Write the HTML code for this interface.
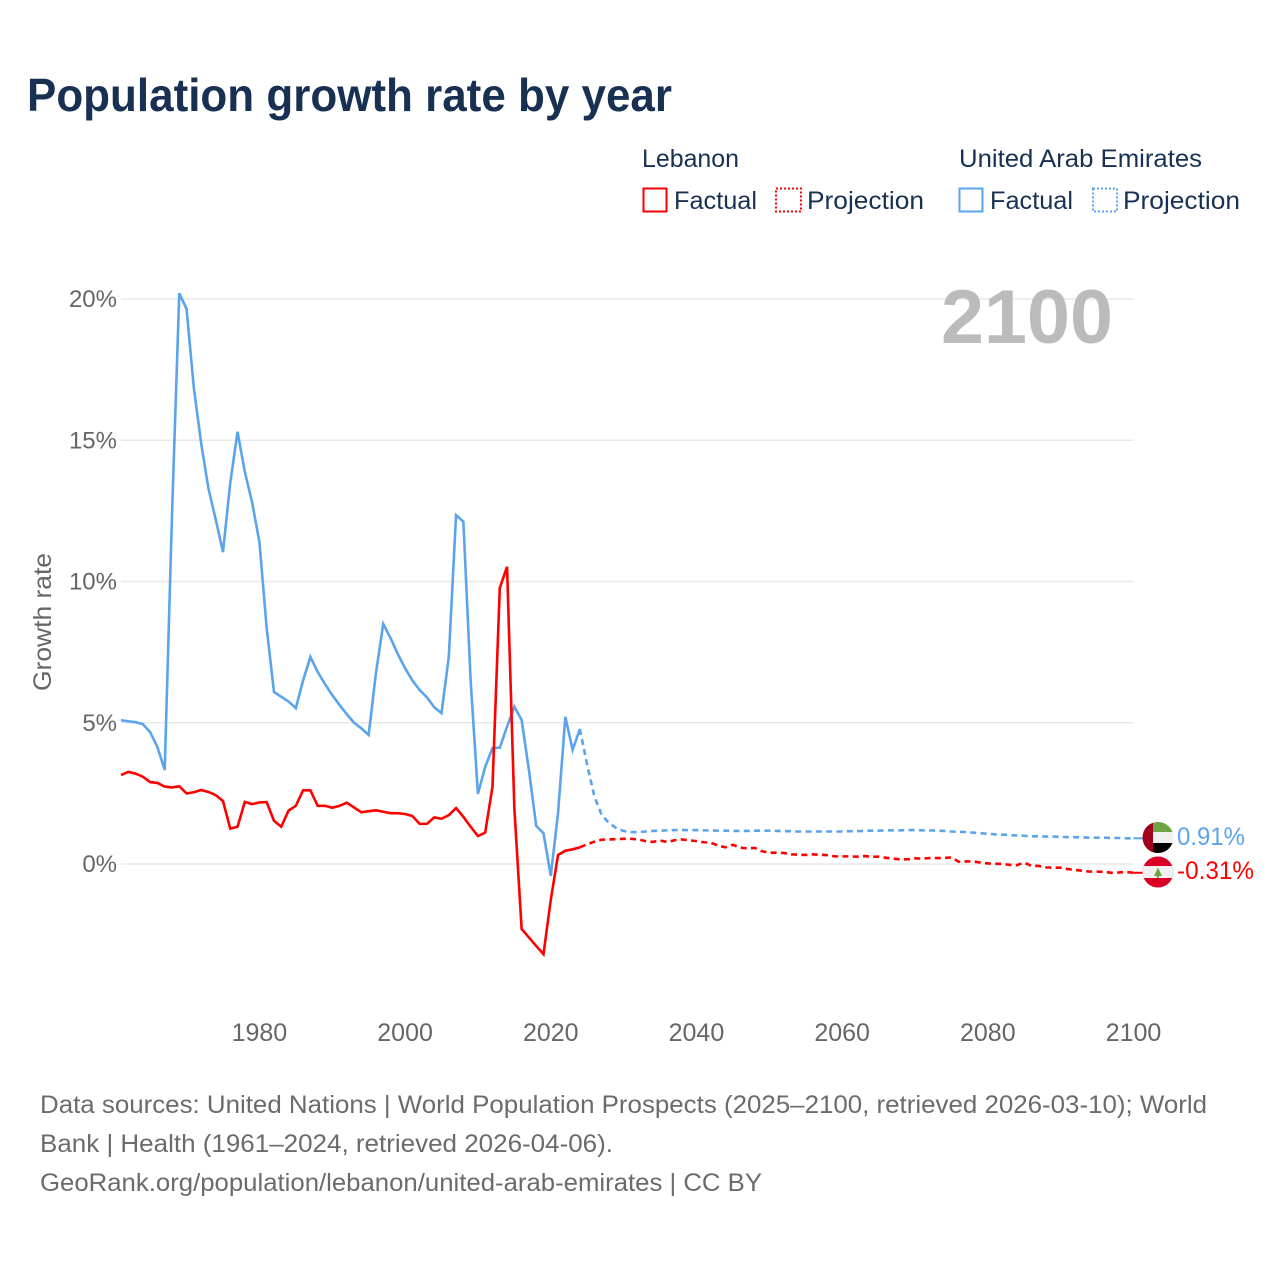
<!DOCTYPE html>
<html>
<head>
<meta charset="utf-8">
<title>Population growth rate by year</title>
<style>
html,body{margin:0;padding:0;background:#fff;width:1280px;height:1280px;overflow:hidden}
svg{display:block}
text{font-family:"Liberation Sans",sans-serif}
</style>
</head>
<body>
<svg id="chart" xmlns="http://www.w3.org/2000/svg" width="1280" height="1280" viewBox="0 0 1280 1280">
  <defs>
    <clipPath id="uae-clip"><circle cx="1158" cy="837.5" r="15.5"/></clipPath>
    <clipPath id="lb-clip"><circle cx="1158" cy="872" r="15.5"/></clipPath>
  </defs>
  <text x="27" y="111" font-size="46" font-weight="700" fill="#183153" textLength="645" lengthAdjust="spacingAndGlyphs">Population growth rate by year</text>

  <g font-size="25" fill="#183153">
    <text x="642" y="167" textLength="97" lengthAdjust="spacingAndGlyphs">Lebanon</text>
    <rect x="643.5" y="188.5" width="23" height="23" fill="none" stroke="#ff0000" stroke-width="2"/>
    <text x="674" y="209" textLength="83" lengthAdjust="spacingAndGlyphs">Factual</text>
    <rect x="776" y="188.5" width="25" height="23" fill="none" stroke="#ff0000" stroke-width="2" stroke-dasharray="2 2"/>
    <text x="807" y="209" textLength="117" lengthAdjust="spacingAndGlyphs">Projection</text>
    <text x="959" y="167" textLength="243" lengthAdjust="spacingAndGlyphs">United Arab Emirates</text>
    <rect x="959.5" y="188.5" width="23" height="23" fill="none" stroke="#5ba4ec" stroke-width="2"/>
    <text x="990" y="209" textLength="83" lengthAdjust="spacingAndGlyphs">Factual</text>
    <rect x="1093" y="188.5" width="24" height="23" fill="none" stroke="#5ba4ec" stroke-width="2" stroke-dasharray="2 2"/>
    <text x="1123" y="209" textLength="117" lengthAdjust="spacingAndGlyphs">Projection</text>
  </g>

  <g id="grid"></g>
  <g id="yticks"></g>
  <g id="xticks"></g>

  <text transform="translate(51 622) rotate(-90)" text-anchor="middle" font-size="25" fill="#666666" textLength="138" lengthAdjust="spacingAndGlyphs">Growth rate</text>

  <text x="941" y="343" font-size="76" font-weight="700" fill="#bbbbbb" textLength="172" lengthAdjust="spacingAndGlyphs">2100</text>

  <g id="series"></g>

  <g clip-path="url(#uae-clip)">
    <rect x="1142" y="822" width="32" height="10" fill="#6da544"/>
    <rect x="1142" y="832" width="32" height="11" fill="#f0f0f0"/>
    <rect x="1142" y="843" width="32" height="11" fill="#000000"/>
    <rect x="1142" y="822" width="11" height="32" fill="#a2001d"/>
  </g>
  <g clip-path="url(#lb-clip)">
    <rect x="1142" y="856" width="32" height="32" fill="#d80027"/>
    <rect x="1142" y="866" width="32" height="12" fill="#f0f0f0"/>
    <polygon points="1158,867.5 1162,876 1159,876 1159,878 1157,878 1157,876 1154,876" fill="#6da544"/>
  </g>
  <text x="1177" y="845" font-size="25" fill="#5ba4ec" textLength="68" lengthAdjust="spacingAndGlyphs">0.91%</text>
  <text x="1177" y="879" font-size="25" fill="#ff0000" textLength="77" lengthAdjust="spacingAndGlyphs">-0.31%</text>

  <g font-size="25" fill="#6b6b6b">
    <text x="40" y="1113" textLength="1167" lengthAdjust="spacingAndGlyphs">Data sources: United Nations | World Population Prospects (2025–2100, retrieved 2026-03-10); World</text>
    <text x="40" y="1152" textLength="573" lengthAdjust="spacingAndGlyphs">Bank | Health (1961–2024, retrieved 2026-04-06).</text>
    <text x="40" y="1191" textLength="722" lengthAdjust="spacingAndGlyphs">GeoRank.org/population/lebanon/united-arab-emirates | CC BY</text>
  </g>
</svg>
<script>
var factualYears = [1961,1962,1963,1964,1965,1966,1967,1968,1969,1970,1971,1972,1973,1974,1975,1976,1977,1978,1979,1980,1981,1982,1983,1984,1985,1986,1987,1988,1989,1990,1991,1992,1993,1994,1995,1996,1997,1998,1999,2000,2001,2002,2003,2004,2005,2006,2007,2008,2009,2010,2011,2012,2013,2014,2015,2016,2017,2018,2019,2020,2021,2022,2023,2024];
var projectionYears = [2024,2025,2026,2027,2028,2029,2030,2031,2032,2033,2034,2035,2036,2037,2038,2039,2040,2041,2042,2043,2044,2045,2046,2047,2048,2049,2050,2051,2052,2053,2054,2055,2056,2057,2058,2059,2060,2061,2062,2063,2064,2065,2066,2067,2068,2069,2070,2071,2072,2073,2074,2075,2076,2077,2078,2079,2080,2081,2082,2083,2084,2085,2086,2087,2088,2089,2090,2091,2092,2093,2094,2095,2096,2097,2098,2099,2100];
var lebanonFactual = [3.15,3.26,3.2,3.09,2.9,2.87,2.74,2.71,2.75,2.5,2.54,2.62,2.55,2.44,2.23,1.25,1.32,2.2,2.12,2.18,2.19,1.53,1.32,1.89,2.06,2.61,2.61,2.06,2.06,1.99,2.06,2.17,2.0,1.83,1.87,1.9,1.85,1.8,1.8,1.77,1.7,1.42,1.42,1.65,1.6,1.73,1.98,1.67,1.32,0.99,1.11,2.74,9.77,10.52,1.98,-2.3,-2.6,-2.9,-3.19,-1.27,0.32,0.47,0.52,0.59];
var uaeFactual = [5.09,5.05,5.02,4.95,4.67,4.14,3.33,12.35,20.2,19.65,16.85,14.9,13.3,12.2,11.04,13.5,15.3,13.88,12.8,11.4,8.35,6.09,5.92,5.75,5.52,6.5,7.33,6.8,6.37,5.98,5.63,5.3,5.0,4.8,4.57,6.76,8.5,8.0,7.43,6.93,6.5,6.16,5.9,5.55,5.34,7.33,12.35,12.12,6.5,2.48,3.44,4.1,4.12,4.86,5.57,5.1,3.33,1.35,1.09,-0.42,1.8,5.21,4.04,4.78];
var lebanonProjection = [0.59,0.7,0.79,0.86,0.87,0.88,0.89,0.89,0.87,0.81,0.78,0.83,0.78,0.84,0.87,0.84,0.81,0.77,0.75,0.65,0.59,0.68,0.58,0.55,0.57,0.45,0.4,0.4,0.39,0.34,0.33,0.32,0.34,0.33,0.31,0.27,0.27,0.27,0.26,0.28,0.26,0.26,0.22,0.19,0.165,0.165,0.2,0.19,0.21,0.21,0.21,0.236,0.08,0.09,0.09,0.05,0.02,0.01,0,-0.03,-0.04,0.05,-0.07,-0.07,-0.12,-0.13,-0.13,-0.18,-0.21,-0.24,-0.27,-0.27,-0.28,-0.31,-0.3,-0.28,-0.31];
var uaeProjection = [4.78,3.5,2.38,1.73,1.45,1.27,1.17,1.13,1.13,1.15,1.17,1.18,1.19,1.2,1.2,1.2,1.2,1.19,1.19,1.18,1.18,1.17,1.17,1.17,1.18,1.18,1.18,1.17,1.16,1.16,1.15,1.15,1.15,1.15,1.15,1.15,1.15,1.16,1.16,1.17,1.18,1.18,1.19,1.19,1.19,1.2,1.2,1.19,1.19,1.18,1.17,1.15,1.14,1.13,1.11,1.09,1.07,1.05,1.04,1.02,1.01,1.0,0.98,0.98,0.97,0.97,0.96,0.95,0.95,0.94,0.93,0.93,0.93,0.92,0.92,0.91,0.91];
var yTickValues = [0,5,10,15,20];
var yTickLabels = ['0%','5%','10%','15%','20%'];
var xTickValues = [1980,2000,2020,2040,2060,2080,2100];
var xTickLabels = ['1980','2000','2020','2040','2060','2080','2100'];

var NS = 'http://www.w3.org/2000/svg';
var plotLeft = 121, plotRight = 1133.5, yearMin = 1961, yearMax = 2100;
var zeroY = 864, pxPerPercent = 28.25;
function xScale(year){ return plotLeft + (year - yearMin) * (plotRight - plotLeft) / (yearMax - yearMin); }
function yScale(value){ return zeroY - value * pxPerPercent; }
function linePoints(years, values){
  return years.map(function(year, i){ return xScale(year).toFixed(2) + ',' + yScale(values[i]).toFixed(2); }).join(' ');
}

var gridGroup = document.getElementById('grid');
var yGroup = document.getElementById('yticks');
yTickValues.forEach(function(value, i){
  var gridLine = document.createElementNS(NS, 'line');
  
  
  gridLine.setAttribute('x1', plotLeft);
  gridLine.setAttribute('x2', plotRight);
  gridLine.setAttribute('y1', yScale(value));
  gridLine.setAttribute('y2', yScale(value));
  gridLine.setAttribute('stroke', '#e8e8e8');
  gridLine.setAttribute('stroke-width', '1.4');
  gridGroup.appendChild(gridLine);
  var label = document.createElementNS(NS, 'text');
  
  
  label.setAttribute('x', 117);
  label.setAttribute('y', yScale(value) + 8);
  label.setAttribute('text-anchor', 'end');
  label.setAttribute('font-size', '24');
  label.setAttribute('fill', '#666666');
  label.textContent = yTickLabels[i];
  yGroup.appendChild(label);
});

var xGroup = document.getElementById('xticks');
xTickValues.forEach(function(year, i){
  var label = document.createElementNS(NS, 'text');
  
  
  label.setAttribute('x', xScale(year));
  label.setAttribute('y', 1041);
  label.setAttribute('text-anchor', 'middle');
  label.setAttribute('font-size', '25');
  label.setAttribute('fill', '#666666');
  label.textContent = xTickLabels[i];
  xGroup.appendChild(label);
});

var seriesGroup = document.getElementById('series');
function drawLine(name, years, values, color, dashed){
  var line = document.createElementNS(NS, 'polyline');
  
  
  line.setAttribute('points', linePoints(years, values));
  line.setAttribute('fill', 'none');
  line.setAttribute('stroke', color);
  line.setAttribute('stroke-width', '2.6');
  line.setAttribute('stroke-linejoin', 'miter');
  if (dashed) { line.setAttribute('stroke-dasharray', '6 4.3'); }
  seriesGroup.appendChild(line);
}
drawLine('lebanon-projection-line', projectionYears, lebanonProjection, '#ff0000', true);
drawLine('uae-projection-line', projectionYears, uaeProjection, '#5ba4ec', true);
drawLine('uae-factual-line', factualYears, uaeFactual, '#5ba4ec', false);
drawLine('lebanon-factual-line', factualYears, lebanonFactual, '#ff0000', false);

function drawLeader(name, value, color){
  var leader = document.createElementNS(NS, 'line');
  
  
  leader.setAttribute('x1', plotRight);
  leader.setAttribute('x2', 1144);
  leader.setAttribute('y1', yScale(value));
  leader.setAttribute('y2', yScale(value));
  leader.setAttribute('stroke', color);
  leader.setAttribute('stroke-width', '2');
  seriesGroup.appendChild(leader);
}
drawLeader('uae-end-leader', uaeProjection[uaeProjection.length - 1], '#5ba4ec');
drawLeader('lebanon-end-leader', lebanonProjection[lebanonProjection.length - 1], '#ff0000');
</script>
</body>
</html>
